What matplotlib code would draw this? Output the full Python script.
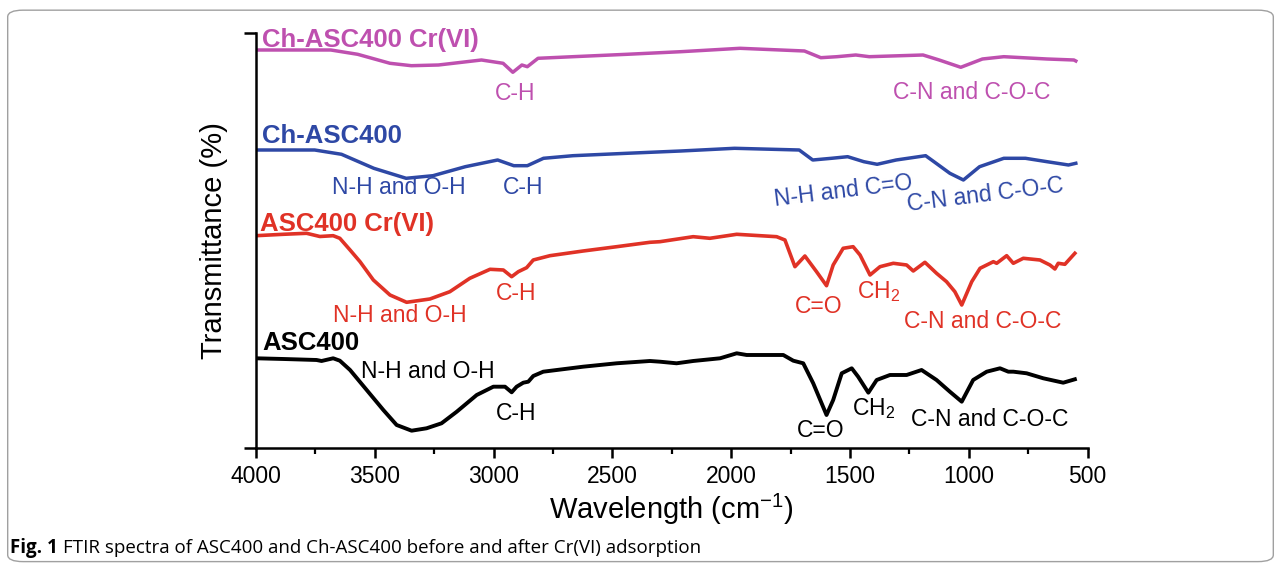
import matplotlib.pyplot as plt
from matplotlib.patches import FancyBboxPatch
from matplotlib.ticker import MultipleLocator

plt.rcParams['font.family'] = ['Liberation Sans', 'DejaVu Sans']
plt.rcParams['mathtext.default'] = 'regular'

# spectra (transmittance in stacked arbitrary units)
asc400_wn = [4000, 3885, 3745, 3724, 3675, 3647, 3604, 3534, 3464, 3408, 3345, 3282, 3219,
             3155, 3071, 3001, 2952, 2924, 2903, 2875, 2854, 2833, 2791, 2623, 2482, 2342,
             2300, 2230, 2160, 2047, 1977, 1935, 1781, 1739, 1697, 1655, 1599, 1571, 1535,
             1493, 1466, 1423, 1388, 1332, 1262, 1199, 1136, 1080, 1030, 982, 925, 869, 834,
             813, 757, 687, 603, 554]
asc400_t = [89.7, 89, 88, 87, 89.7, 87.3, 78, 58, 38, 23, 17.3, 19.7, 24.7,
            36.3, 53, 61.3, 61.3, 55.7, 61.3, 65.3, 66.3, 72, 76.3, 81.3, 84.7, 87,
            86.3, 84.7, 87, 89.7, 94.7, 93, 93, 87.3, 84.7, 64.7, 33, 48, 74.7,
            79.7, 71.3, 55.3, 68, 73, 73, 78, 68, 56.3, 46.3, 68, 76.3, 79.7, 76.3,
            76.3, 74.7, 69.7, 65.3, 68.7]

asc400cr_wn = [4000, 3885, 3787, 3731, 3675, 3647, 3604, 3562, 3506, 3436, 3366, 3268, 3184,
               3100, 3015, 2959, 2924, 2896, 2861, 2833, 2763, 2623, 2482, 2342, 2300, 2160,
               2090, 1977, 1809, 1774, 1732, 1690, 1641, 1599, 1571, 1529, 1487, 1458, 1416,
               1374, 1318, 1262, 1234, 1185, 1136, 1094, 1059, 1030, 988, 953, 897, 883, 841,
               813, 771, 701, 659, 638, 624, 596, 554]
asc400cr_t = [212.3, 213.7, 214.7, 211.5, 212.3, 209.7, 198, 186.3, 168, 153, 145.7, 149, 156.3,
              169.7, 178.7, 178, 171.3, 176.3, 180.3, 188, 192.3, 197, 201.3, 205.7, 206.3, 211.3,
              209.7, 213.7, 211.3, 208, 181.3, 192, 176.3, 162.3, 183, 199.7, 201.3, 193, 173,
              181.3, 184.7, 183, 177, 185.7, 174.7, 166.3, 156.3, 143, 166.3, 179.7, 186.3, 184.7, 192.3,
              184.7, 189.7, 188, 183, 179, 184.7, 183.7, 194.7]

ch_wn = [4000, 3753, 3640, 3504, 3368, 3255, 3119, 2983, 2915, 2858, 2790, 2666, 2439, 2212,
         1986, 1714, 1657, 1578, 1510, 1442, 1386, 1306, 1182, 1147, 1080, 1023, 955, 853,
         762, 671, 581, 550]
ch_t = [298, 298, 293.7, 279.7, 269.7, 272.3, 281.3, 288, 282.3, 282.3, 289.7, 292.3, 294.7, 297,
        299.7, 298, 288, 289.7, 291.3, 286.3, 283.7, 288, 292.3, 286.3, 274.7, 268, 281.3, 289.7,
        289.7, 286.3, 283, 284.7]

chcr_wn = [4000, 3685, 3572, 3436, 3346, 3232, 3051, 2960, 2919, 2881, 2858, 2813, 2666, 2439,
           2212, 1963, 1692, 1623, 1555, 1476, 1419, 1193, 1125, 1034, 943, 853, 671, 558, 550]
chcr_t = [398, 398, 393.7, 384.7, 382.3, 383, 388, 384.7, 375.7, 383, 381.3, 389.7, 391.3, 393.7,
          396.3, 399.7, 397, 390.3, 391.3, 393, 391.3, 393, 388, 380.7, 389, 391.3, 389, 388, 387]

black = '#000000'
red = '#e03226'
blue = '#2e48a5'
magenta = '#be50af'

fig = plt.figure(figsize=(12.81, 5.65), dpi=100)
ax = fig.add_axes([0.1998, 0.2071, 0.6493, 0.7345])

ax.plot(asc400_wn, asc400_t, color=black, lw=2.8, solid_joinstyle='round')
ax.plot(asc400cr_wn, asc400cr_t, color=red, lw=2.6, solid_joinstyle='round')
ax.plot(ch_wn, ch_t, color=blue, lw=2.5, solid_joinstyle='round')
ax.plot(chcr_wn, chcr_t, color=magenta, lw=2.5, solid_joinstyle='round')

ax.set_xlim(4000, 500)
ax.set_ylim(0, 415)
ax.xaxis.set_major_locator(MultipleLocator(500))
ax.xaxis.set_minor_locator(MultipleLocator(250))
ax.set_yticks([0, 415])
ax.set_yticklabels([])
ax.spines['top'].set_visible(False)
ax.spines['right'].set_visible(False)
for s in ['left', 'bottom']:
    ax.spines[s].set_linewidth(1.8)
ax.tick_params(axis='x', which='major', length=7, width=1.8, labelsize=16.5, pad=5)
ax.tick_params(axis='x', which='minor', length=4.5, width=1.6)
ax.tick_params(axis='y', length=9, width=1.8)

ax.set_xlabel('Wavelength (cm$^{-1}$)', fontsize=21)
ax.set_ylabel('Transmittance (%)', fontsize=21)
ax.xaxis.set_label_coords(0.5, -0.105)
ax.yaxis.set_label_coords(-0.034, 0.5)

# series names
bold = dict(fontsize=18.5, fontweight='bold', va='baseline', ha='left')
ax.text(3975, 401, 'Ch-ASC400 Cr(VI)', color=magenta, **bold)
ax.text(3975, 304.5, 'Ch-ASC400', color=blue, **bold)
ax.text(3983, 217, 'ASC400 Cr(VI)', color=red, **bold)
ax.text(3975, 98, 'ASC400', color=black, **bold)

# band labels
lab = dict(fontsize=16.5, va='baseline', ha='center')
ax.text(2910, 348, 'C-H', color=magenta, **lab)
ax.text(990, 349, 'C-N and C-O-C', color=magenta, **lab)

ax.text(3400, 254, 'N-H and O-H', color=blue, **lab)
ax.text(2876, 254, 'C-H', color=blue, **lab)
ax.text(1526, 250.5, 'N-H and C=O', color=blue, rotation=7, rotation_mode='anchor', **lab)
ax.text(926, 247, 'C-N and C-O-C', color=blue, rotation=7, rotation_mode='anchor', **lab)

ax.text(3394, 126, 'N-H and O-H', color=red, **lab)
ax.text(2906, 148, 'C-H', color=red, **lab)
ax.text(1631, 135, 'C=O', color=red, **lab)
ax.text(1472, 150, 'CH$_2$', color=red, fontsize=16.5, va='baseline', ha='left')
ax.text(941, 120, 'C-N and C-O-C', color=red, **lab)

ax.text(3278, 69.7, 'N-H and O-H', color=black, **lab)
ax.text(2906, 28, 'C-H', color=black, **lab)
ax.text(1623, 11.3, 'C=O', color=black, **lab)
ax.text(1493, 33, 'CH$_2$', color=black, fontsize=16.5, va='baseline', ha='left')
ax.text(911, 22.3, 'C-N and C-O-C', color=black, **lab)

# caption and frame
fig.text(0.008, 0.021, 'Fig. 1', fontsize=13.5, fontweight='bold', family='Open Sans', va='baseline')
fig.text(0.049, 0.021, 'FTIR spectra of ASC400 and Ch-ASC400 before and after Cr(VI) adsorption',
         fontsize=13.5, family='Open Sans', va='baseline')
frame = FancyBboxPatch((0.006, 0.006), 0.988, 0.976, boxstyle='round,pad=0,rounding_size=0.012',
                       transform=fig.transFigure, fill=False, edgecolor='#a0a0a0', lw=1.0)
fig.add_artist(frame)

fig.savefig('out.png', dpi=100)
